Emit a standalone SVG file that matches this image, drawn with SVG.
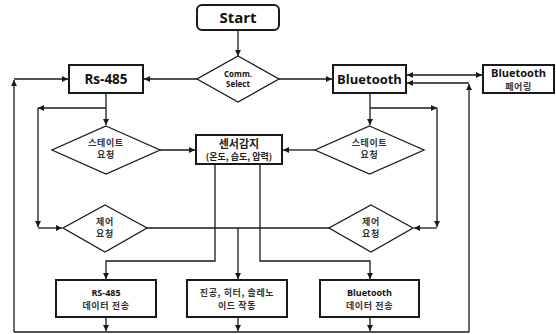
<svg xmlns="http://www.w3.org/2000/svg" width="556" height="334" viewBox="0 0 556 334">
<style>
.box{fill:#fff;stroke:#1a1a1a;stroke-width:2}
.dia{fill:#fff;stroke:#1a1a1a;stroke-width:1.3}
.ln{fill:none;stroke:#1a1a1a;stroke-width:1.3}
.arr{fill:none;stroke:#1a1a1a;stroke-width:1.3;marker-end:url(#ah)}
.t{font-family:"Noto Sans CJK KR","Noto Sans",sans-serif;text-anchor:middle;fill:#222}
.big{font-family:"Open Sans","Noto Sans",sans-serif;font-weight:bold;text-anchor:middle;fill:#111}
.k{font-size:9px;font-weight:bold;fill:#333;letter-spacing:0.6px}
</style>
<defs>
<marker id="ah" markerUnits="userSpaceOnUse" markerWidth="7" markerHeight="7" refX="6" refY="3" orient="auto">
<path d="M0,0 L6,3 L0,6 z" fill="#1a1a1a"/>
</marker>
<marker id="ahs" markerUnits="userSpaceOnUse" markerWidth="7" markerHeight="7" refX="0" refY="3" orient="auto">
<path d="M6,0 L0,3 L6,6 z" fill="#1a1a1a"/>
</marker>
</defs>
<g id="connectors">
<line class="arr" x1="238" y1="30" x2="238" y2="56"/>
<line class="arr" x1="197" y1="79" x2="144" y2="79"/>
<line class="arr" x1="279" y1="79" x2="332" y2="79"/>
<line class="arr" x1="407" y1="75" x2="482" y2="75" style="marker-start:url(#ahs)"/>
<line class="arr" x1="14" y1="332" x2="14" y2="80"/>
<line class="arr" x1="14" y1="79" x2="68" y2="79"/>
<line class="arr" x1="469" y1="332" x2="469" y2="84"/>
<line class="arr" x1="469" y1="83" x2="407" y2="83"/>
<line class="arr" x1="106" y1="93" x2="106" y2="125"/>
<line class="arr" x1="370" y1="93" x2="370" y2="125"/>
<line class="arr" x1="106" y1="108" x2="38" y2="108"/>
<line class="arr" x1="38" y1="108" x2="38" y2="227"/>
<line class="arr" x1="38" y1="228" x2="62" y2="228"/>
<line class="arr" x1="370" y1="108" x2="437" y2="108"/>
<line class="arr" x1="437" y1="108" x2="437" y2="227"/>
<line class="arr" x1="437" y1="228" x2="414" y2="228"/>
<line class="arr" x1="160" y1="150" x2="195" y2="150"/>
<line class="arr" x1="315" y1="150" x2="283" y2="150"/>
<line class="ln" x1="147" y1="228" x2="329" y2="228"/>
<line class="arr" x1="238" y1="228" x2="238" y2="279"/>
<polyline class="arr" points="215,164 215,261 106,261 106,279"/>
<polyline class="arr" points="260,164 260,261 370,261 370,279"/>
<line class="ln" x1="14" y1="332" x2="469" y2="332"/>
<line class="arr" x1="106" y1="317" x2="106" y2="331"/>
<line class="arr" x1="238" y1="317" x2="238" y2="331"/>
<line class="arr" x1="370" y1="317" x2="370" y2="331"/>
</g>
<g id="start">
<rect class="box" x="197" y="5" width="82" height="25" rx="5"/>
<text class="big" x="238" y="23" font-size="15">Start</text>
</g>
<g id="comm-select">
<polygon class="dia" points="238,56 279,79 238,102 197,79"/>
<text class="big" x="238" y="77" font-size="8">Comm.</text>
<text class="big" x="238" y="87" font-size="8">Select</text>
</g>
<g id="rs485">
<rect class="box" x="69" y="65" width="74" height="28"/>
<text class="big" x="106" y="84" font-size="13.5">Rs-485</text>
</g>
<g id="bluetooth">
<rect class="box" x="333" y="65" width="73" height="28"/>
<text class="big" x="369.5" y="84" font-size="13">Bluetooth</text>
</g>
<g id="bt-pairing">
<rect class="box" x="483" y="65" width="71" height="28"/>
<text class="big" x="518.5" y="77" font-size="11">Bluetooth</text>
<text class="t k" x="518.5" y="90">페어링</text>
</g>
<g id="state-left">
<polygon class="dia" points="106,126 160,150 106,174 52,150"/>
<text class="t k" x="106" y="146">스테이트</text>
<text class="t k" x="106" y="158">요청</text>
</g>
<g id="state-right">
<polygon class="dia" points="369.5,126 424,150 369.5,174 315,150"/>
<text class="t k" x="369.5" y="146">스테이트</text>
<text class="t k" x="369.5" y="158">요청</text>
</g>
<g id="sensor">
<rect class="box" x="196" y="135" width="86" height="29"/>
<text class="t" x="239" y="148" font-size="11" font-weight="bold" fill="#111">센서감지</text>
<text class="t" x="239" y="160" font-size="9" font-weight="bold" fill="#111">(온도, 습도, 압력)</text>
</g>
<g id="control-left">
<polygon class="dia" points="105,205 147,228 105,252 63,228"/>
<text class="t k" x="105" y="225">제어</text>
<text class="t k" x="105" y="237">요청</text>
</g>
<g id="control-right">
<polygon class="dia" points="371,205 413,228 371,252 329,228"/>
<text class="t k" x="371" y="225">제어</text>
<text class="t k" x="371" y="237">요청</text>
</g>
<g id="rs485-data">
<rect class="box" x="56" y="280" width="100" height="37"/>
<text class="big" x="106" y="296" font-size="9" fill="#333">RS-485</text>
<text class="t k" x="106" y="309">데이터 전송</text>
</g>
<g id="actuator">
<rect class="box" x="187" y="280" width="100" height="37"/>
<text class="t k" x="237" y="296">진공, 히터, 솔레노</text>
<text class="t k" x="237" y="309">이드 작동</text>
</g>
<g id="bt-data">
<rect class="box" x="320" y="280" width="99" height="37"/>
<text class="big" x="369.5" y="296" font-size="9" fill="#333">Bluetooth</text>
<text class="t k" x="369.5" y="309">데이터 전송</text>
</g>
</svg>
